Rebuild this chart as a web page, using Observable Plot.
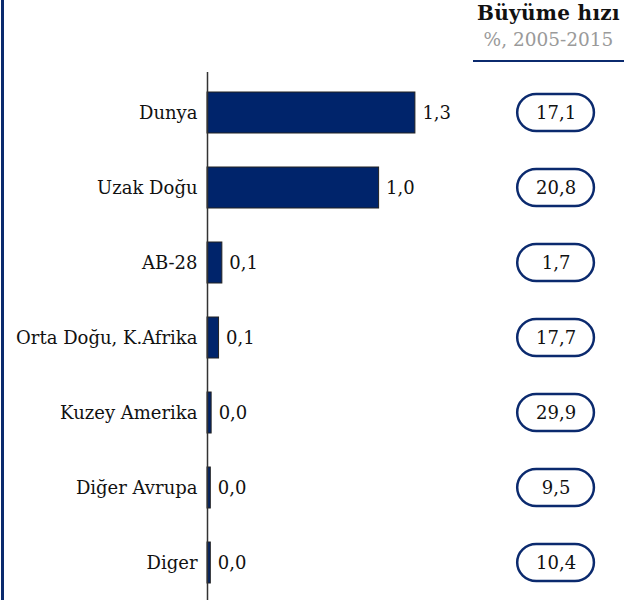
<!DOCTYPE html>
<html>
<head>
<meta charset="utf-8">
<script src="https://cdn.jsdelivr.net/npm/d3@7"></script>
<script src="https://cdn.jsdelivr.net/npm/@observablehq/plot@0.6"></script>
<style>
  html, body { margin: 0; padding: 0; background: #fff; }
  #wrap { position: relative; width: 624px; height: 600px; overflow: hidden; font-family: "DejaVu Serif", serif; }
  #border { position: absolute; left: 1px; top: 0; width: 3px; height: 600px; background: #0b2a6e; }
  .hdr { position: absolute; left: 473px; width: 151px; text-align: center; white-space: nowrap; }
  #h1 { top: 1px; font-size: 20px; line-height: 24px; letter-spacing: 0.3px; font-weight: bold; color: #111; }
  #h2 { top: 29px; font-size: 18.5px; line-height: 22px; color: #9a9a9a; }
  #hline { position: absolute; left: 473px; top: 60px; width: 151px; height: 2px; background: #0b2a6e; }
  #chart { position: absolute; left: 0; top: 0; }
</style>
</head>
<body>
<div id="wrap">
  <div id="chart"></div>
  <div id="border"></div>
  <div class="hdr" id="h1">Büyüme hızı</div>
  <div class="hdr" id="h2">%, 2005-2015</div>
  <div id="hline"></div>
</div>
<script>
const categories = ["Dunya", "Uzak Doğu", "AB-28", "Orta Doğu, K.Afrika", "Kuzey Amerika", "Diğer Avrupa", "Diger"];
const values = [1.26, 1.04, 0.09, 0.07, 0.025, 0.02, 0.02];
const growth = [17.1, 20.8, 1.7, 17.7, 29.9, 9.5, 10.4];

const fmt = v => v.toFixed(1).replace(".", ",");
const data = categories.map((c, i) => ({ cat: c, value: values[i], growth: growth[i] }));

// pill column placed in the right part of the x scale
const pillX1 = 1.88, pillX2 = 2.345, pillMid = (pillX1 + pillX2) / 2;
const FS = 18;

const chart = Plot.plot({
  width: 624,
  height: 600,
  marginLeft: 207,
  marginRight: 4.5,
  marginTop: 72,
  marginBottom: 0,
  style: { fontFamily: "DejaVu Serif, serif", fontSize: FS + "px", color: "#111", background: "transparent", overflow: "visible" },
  x: { domain: [0, 2.5], axis: null },
  y: { domain: categories, range: [72, 603], padding: 0, axis: null },
  marks: [
    Plot.barX(data, { y: "cat", x: "value", fill: "#00246b", stroke: "#222", strokeWidth: 1, insetTop: 17, insetBottom: 17 }),
    Plot.ruleX([0], { stroke: "#333", strokeWidth: 1.5 }),
    Plot.text(data, { y: "cat", x: 0, text: "cat", textAnchor: "end", dx: -10, fill: "#111", fontSize: FS }),
    Plot.text(data, { y: "cat", x: "value", text: d => fmt(d.value), textAnchor: "start", dx: 7, fill: "#111", fontSize: FS }),
    Plot.barX(data, { y: "cat", x1: pillX1, x2: pillX2, fill: "white", stroke: "#0b2a6e", strokeWidth: 2.5, rx: 19, insetTop: 19, insetBottom: 19 }),
    Plot.text(data, { y: "cat", x: pillMid, text: d => fmt(d.growth), textAnchor: "middle", fill: "#111", fontSize: FS })
  ]
});
document.getElementById("chart").appendChild(chart);
</script>
</body>
</html>
